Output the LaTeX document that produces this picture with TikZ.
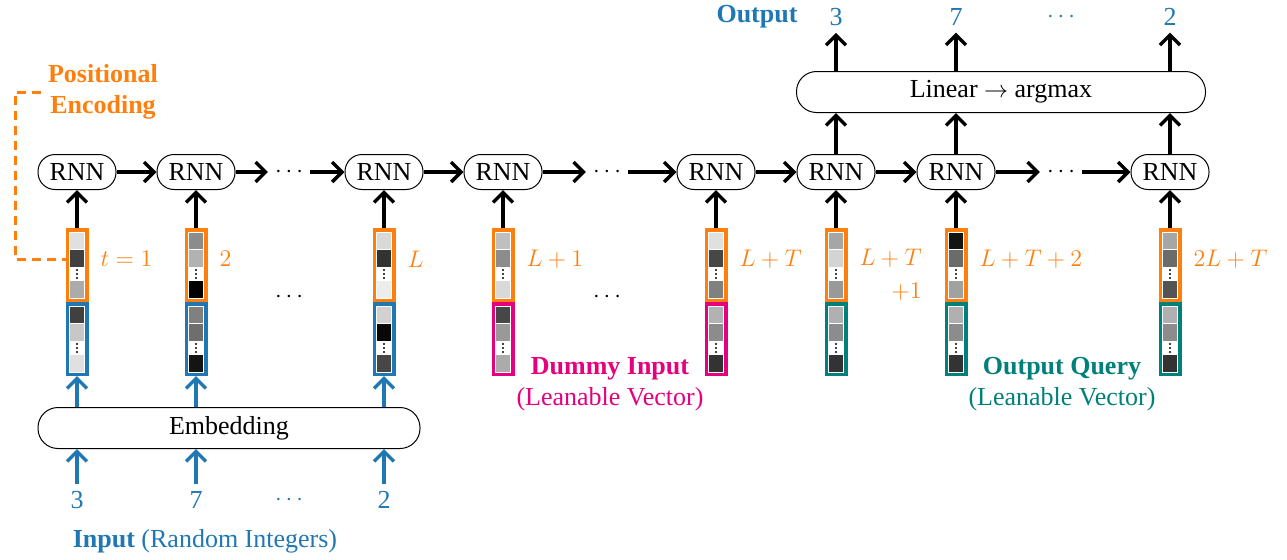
\documentclass[tikz,border=0pt]{standalone}
\usepackage{fontspec}
\setmainfont{Liberation Serif}
\usetikzlibrary{positioning, arrows.meta}
\definecolor{peorange}{HTML}{FF7F0E}
\definecolor{inblue}{HTML}{1F77B4}
\definecolor{dummypink}{HTML}{E6007E}
\definecolor{queryteal}{HTML}{00807A}
% one vector: name, x, top, frame colour, grey levels of the three cells
\newcommand{\vecbox}[7]{%
  \node[vbox, draw=#4] (#1) at (#2,{#3+37}) {};
  \fill[black!#5] ({#2-7},{#3+5}) rectangle ({#2+7},{#3+21});
  \fill[black!#6] ({#2-7},{#3+21.8}) rectangle ({#2+7},{#3+39});
  \foreach \d in {42,46,50} \fill ({#2},{#3+\d}) circle (0.6pt);
  \fill[black!#7] ({#2-7},{#3+53}) rectangle ({#2+7},{#3+70});
}

\begin{document}
\begin{tikzpicture}[x=0.5pt, y=-0.5pt, font=\fontsize{13}{15.6}\selectfont,
    rnn/.style={draw, line width=0.5pt, rounded corners=8.5pt, minimum width=39pt, minimum height=17.5pt, inner sep=0pt},
    wide/.style={draw, line width=0.5pt, rounded corners=10pt, minimum height=20.5pt, inner sep=0pt},
    vbox/.style={draw, line width=1.75pt, fill=white, minimum width=9.75pt, minimum height=35.25pt, inner sep=0pt},
    arr/.style={-{Straight Barb[length=5pt, width=10pt]}, line width=1.7pt},
    barr/.style={arr, inblue},
    pelbl/.style={text=peorange, right=2.5pt of #1, yshift=3pt},
]
\useasboundingbox (0,0) rectangle (1287,559);

% recurrent row
\node[rnn] (rnn1) at (77,172) {RNN};
\node[rnn] (rnn2) at (196,172) {RNN};
\node (hd1) at (289,172) {$\cdots$};
\node[rnn] (rnn3) at (384,172) {RNN};
\node[rnn] (rnn4) at (503,172) {RNN};
\node (hd2) at (607,172) {$\cdots$};
\node[rnn] (rnn5) at (716,172) {RNN};
\node[rnn] (rnn6) at (836,172) {RNN};
\node[rnn] (rnn7) at (956,172) {RNN};
\node (hd3) at (1061,172) {$\cdots$};
\node[rnn] (rnn8) at (1170,172) {RNN};

\draw[arr] (rnn1) -- (rnn2);
\draw[arr] (rnn2) -- (hd1);
\draw[arr] (hd1) -- (rnn3);
\draw[arr] (rnn3) -- (rnn4);
\draw[arr] (rnn4) -- (hd2);
\draw[arr] (hd2) -- (rnn5);
\draw[arr] (rnn5) -- (rnn6);
\draw[arr] (rnn6) -- (rnn7);
\draw[arr] (rnn7) -- (hd3);
\draw[arr] (hd3) -- (rnn8);

% vectors
\vecbox{pe1}{77}{228}{peorange}{12}{75}{33}
\vecbox{in1}{77}{302}{inblue}{75}{22}{12}
\vecbox{pe2}{196}{228}{peorange}{45}{30}{100}
\vecbox{in2}{196}{302}{inblue}{50}{57}{92}
\vecbox{pe3}{384}{228}{peorange}{15}{80}{7}
\vecbox{in3}{384}{302}{inblue}{18}{97}{72}
\vecbox{pe4}{503}{228}{peorange}{25}{45}{15}
\vecbox{du4}{503}{302}{dummypink}{72}{40}{33}
\vecbox{pe5}{716}{228}{peorange}{12}{72}{50}
\vecbox{du5}{716}{302}{dummypink}{30}{45}{80}
\vecbox{pe6}{836}{228}{peorange}{35}{17}{40}
\vecbox{oq6}{836}{302}{queryteal}{31}{45}{80}
\vecbox{pe7}{956}{228}{peorange}{92}{58}{37}
\vecbox{oq7}{956}{302}{queryteal}{31}{45}{80}
\vecbox{pe8}{1170}{228}{peorange}{35}{58}{67}
\vecbox{oq8}{1170}{302}{queryteal}{31}{45}{80}

\node (vd1) at (289,297) {$\cdots$};
\node (vd2) at (607,297) {$\cdots$};

\foreach \i in {1,...,8} \draw[arr] (pe\i) -- (rnn\i);

% time steps
\node[pelbl=pe1] (t1) {$t=1$};
\node[pelbl=pe2] (t2) {$2$};
\node[pelbl=pe3] (t3) {$L$};
\node[pelbl=pe4] (t4) {$L+1$};
\node[pelbl=pe5] (t5) {$L+T$};
\node[pelbl=pe6, yshift=-8pt, align=right] (t6) {$L+T$\\[1pt]$+1$};
\node[pelbl=pe7] (t7) {$L+T+2$};
\node[pelbl=pe8] (t8) {$2L+T$};

\node[text=peorange, font=\fontsize{13}{15.6}\selectfont\bfseries, align=center] (pos) at (103,92) {Positional\\Encoding};
\draw[peorange, line width=1.5pt, dash pattern=on 4.5pt off 3pt] (pos.west) -- ++(-26,0) |- ([yshift=3pt]pe1.west);

% input side
\node[wide, minimum width=191pt] (emb) at (229,428) {Embedding};
\node[text=inblue] (x1) at (77,500) {3};
\node[text=inblue] (x2) at (196,500) {7};
\node[text=inblue] (xd) at (289,500) {$\cdots$};
\node[text=inblue] (x3) at (384,500) {2};
\node[text=inblue] (inlbl) at (205,541) {\textbf{Input} (Random Integers)};

\draw[barr] (x1) -- (x1 |- emb.south);
\draw[barr] (x2) -- (x2 |- emb.south);
\draw[barr] (x3) -- (x3 |- emb.south);
\draw[barr] (emb.north -| in1) -- (in1);
\draw[barr] (emb.north -| in2) -- (in2);
\draw[barr] (emb.north -| in3) -- (in3);

\node[text=dummypink, align=center] (dulbl) at (610,384) {\textbf{Dummy Input}\\(Leanable Vector)};
\node[text=queryteal, align=center] (oqlbl) at (1062,384) {\textbf{Output Query}\\(Leanable Vector)};

% output side
\node[wide, minimum width=204.5pt] (lin) at (1001,92) {Linear $\rightarrow$ argmax};
\node[text=inblue] (y1) at (836,17) {3};
\node[text=inblue] (y2) at (956,17) {7};
\node[text=inblue] (yd) at (1061,17) {$\cdots$};
\node[text=inblue] (y3) at (1170,17) {2};
\node[text=inblue, font=\fontsize{13}{15.6}\selectfont\bfseries] (outlbl) at (757,17) {Output};

\draw[arr] (rnn6) -- (rnn6 |- lin.south);
\draw[arr] (rnn7) -- (rnn7 |- lin.south);
\draw[arr] (rnn8) -- (rnn8 |- lin.south);
\draw[arr] (lin.north -| y1) -- (y1);
\draw[arr] (lin.north -| y2) -- (y2);
\draw[arr] (lin.north -| y3) -- (y3);
\end{tikzpicture}
\end{document}
